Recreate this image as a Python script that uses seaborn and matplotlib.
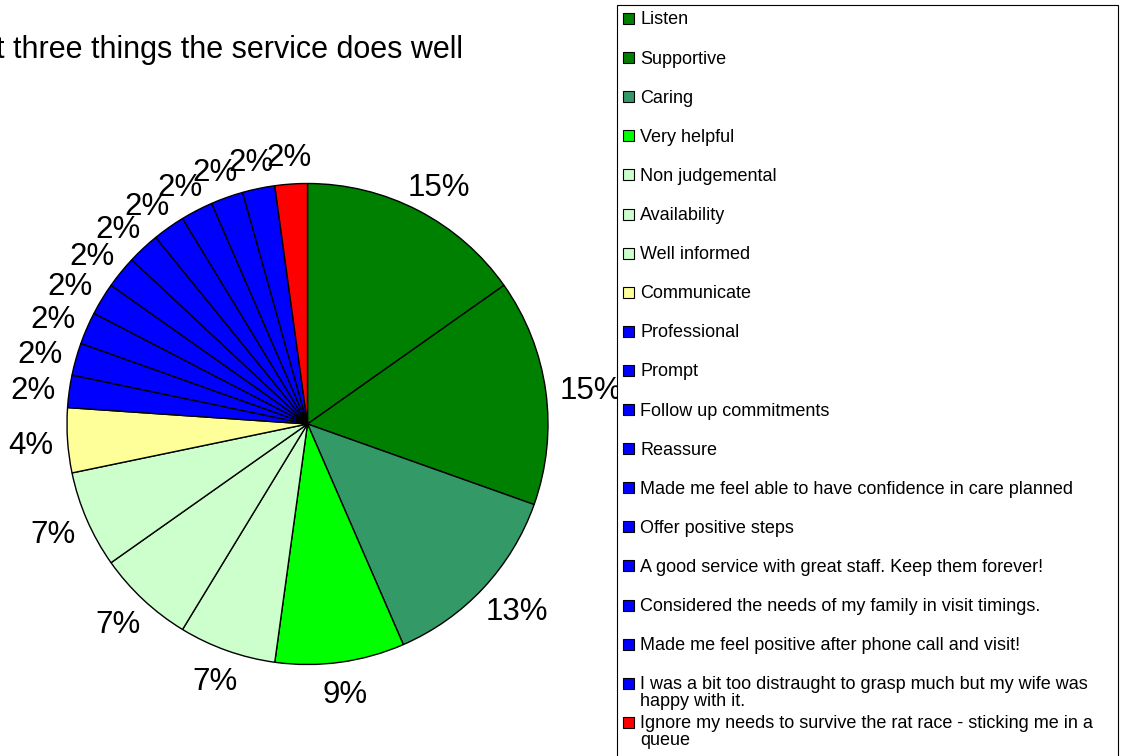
import numpy as np
import matplotlib
matplotlib.use("Agg")
import matplotlib.pyplot as plt
import matplotlib.transforms as mtransforms
from matplotlib.patches import Rectangle
import seaborn as sns

# Responses: what the service does well
categories = [
    "Listen",
    "Supportive",
    "Caring",
    "Very helpful",
    "Non judgemental",
    "Availability",
    "Well informed",
    "Communicate",
    "Professional",
    "Prompt",
    "Follow up commitments",
    "Reassure",
    "Made me feel able to have confidence in care planned",
    "Offer positive steps",
    "A good service with great staff. Keep them forever!",
    "Considered the needs of my family in visit timings.",
    "Made me feel positive after phone call and visit!",
    "I was a bit too distraught to grasp much but my wife was\nhappy with it.",
    "Ignore my needs to survive the rat race - sticking me in a\nqueue",
]
counts = [7, 7, 6, 4, 3, 3, 3, 2, 1, 1, 1, 1, 1, 1, 1, 1, 1, 1, 1]
slice_colors = [
    "#008000", "#008000", "#339966", "#00FF00",
    "#CCFFCC", "#CCFFCC", "#CCFFCC", "#FFFF99",
    "#0000FF", "#0000FF", "#0000FF", "#0000FF", "#0000FF",
    "#0000FF", "#0000FF", "#0000FF", "#0000FF", "#0000FF",
    "#FF0000",
]
title = "t three things the service does well"

sns.set_theme(style="white")
plt.rcParams["font.family"] = ["Liberation Sans", "DejaVu Sans"]

W, H, DPI = 1122, 756, 100
fig = plt.figure(figsize=(W / DPI, H / DPI), dpi=DPI)
fig.patch.set_facecolor("white")

# pie geometry in pixels
cx, cy, r = 307.5, 424.0, 240.5
lim = 1.1
half = r * lim
ax = fig.add_axes([(cx - half) / W, (H - cy - half) / H, 2 * half / W, 2 * half / H])

wedges, _, pct_texts = ax.pie(
    counts,
    colors=slice_colors,
    startangle=90,
    counterclock=False,
    autopct="%1.0f%%",
    pctdistance=1.06,
    wedgeprops=dict(edgecolor="black", linewidth=1.0),
    textprops=dict(fontsize=22.5, color="black"),
)
ax.set_xlim(-lim, lim)
ax.set_ylim(-lim, lim)
ax.set_aspect("equal")
ax.axis("off")

# push each percentage label outward so its box sits just outside the rim
fig.canvas.draw()
for w, t in zip(wedges, pct_texts):
    theta = np.deg2rad((w.theta1 + w.theta2) / 2)
    t.set_va("center_baseline")
    bb = t.get_window_extent()
    dx = bb.width / 2 * np.cos(theta)
    dy = bb.height / 2 * np.sin(theta)
    t.set_transform(ax.transData + mtransforms.ScaledTranslation(dx / DPI, dy / DPI, fig.dpi_scale_trans))

# title
fig.text(463 / W, (H - 58) / H, title, ha="right", va="baseline", fontsize=22, color="black")

# legend box (white fill, drawn over the pie labels)
leg_left, leg_right, leg_top = 617, 1118, 5
fig.add_artist(Rectangle((leg_left / W, -0.02), (leg_right - leg_left) / W, (H - leg_top) / H + 0.02,
                         transform=fig.transFigure, facecolor="white", edgecolor="black",
                         linewidth=0.8, zorder=5))
first_row, pitch = 18.0, 39.1
for i, (lab, col) in enumerate(zip(categories, slice_colors)):
    yc = first_row + pitch * i
    fig.add_artist(Rectangle((623 / W, (H - yc - 6) / H), 11 / W, 11 / H, transform=fig.transFigure,
                             facecolor=col, edgecolor="black", linewidth=0.8, zorder=6))
    fig.text(640 / W, (H - yc + 6.5) / H, lab, ha="left", va="top", fontsize=13,
             color="black", linespacing=1.0, zorder=6)

fig.savefig("out.png", dpi=DPI, facecolor="white")
